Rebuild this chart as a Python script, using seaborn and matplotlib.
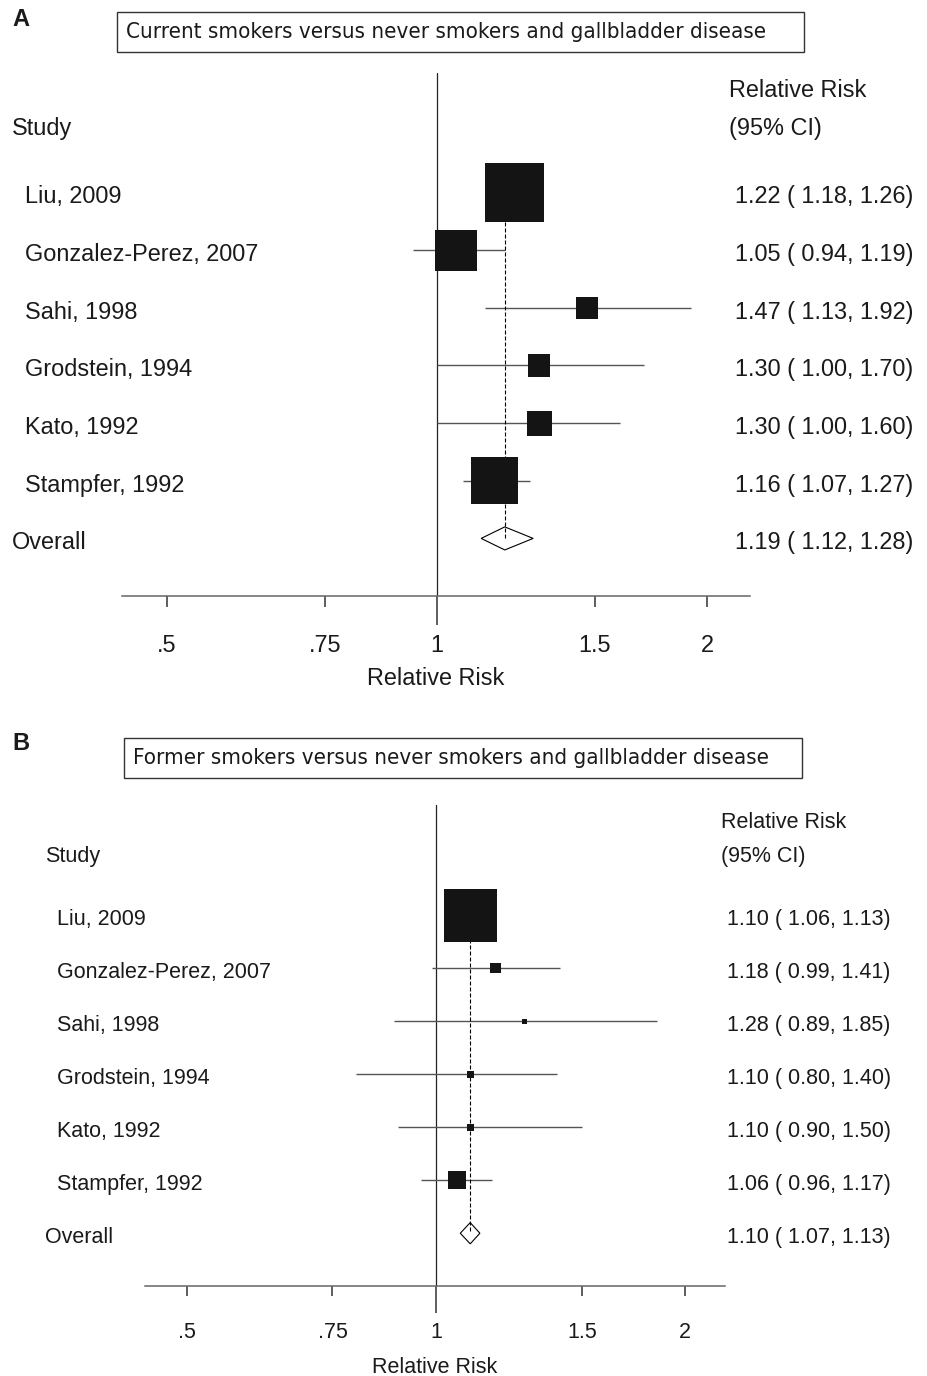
"""
Forest plots: smoking status and gallbladder disease (panels A and B)
"""

import numpy as np
import pandas as pd
import matplotlib
matplotlib.use('Agg')
import matplotlib.pyplot as plt
import matplotlib.transforms as mtransforms
from matplotlib import font_manager
from matplotlib.patches import Rectangle
import seaborn as sns

sns.set_theme(style='white')
plt.rcParams['font.family'] = ['Liberation Sans', 'DejaVu Sans']

# ============================================================================
# Data
# ============================================================================
studies = ['Liu, 2009', 'Gonzalez-Perez, 2007', 'Sahi, 1998',
           'Grodstein, 1994', 'Kato, 1992', 'Stampfer, 1992']

# A: current vs never smokers
a_rr = [1.22, 1.05, 1.47, 1.30, 1.30, 1.16]
a_lo = [1.18, 0.94, 1.13, 1.00, 1.00, 1.07]
a_hi = [1.26, 1.19, 1.92, 1.70, 1.60, 1.27]
a_weight = [38.7, 18.7, 5.6, 5.5, 6.9, 24.5]      # % weight (box area)
a_overall = [1.19, 1.12, 1.28]

# B: former vs never smokers
b_rr = [1.10, 1.18, 1.28, 1.10, 1.10, 1.06]
b_lo = [1.06, 0.99, 0.89, 0.80, 0.90, 0.96]
b_hi = [1.13, 1.41, 1.85, 1.40, 1.50, 1.17]
b_weight = [83.7, 3.2, 0.75, 1.3, 1.6, 9.4]
b_overall = [1.10, 1.07, 1.13]

tick_vals = [0.5, 0.75, 1, 1.5, 2]
tick_labels = ['.5', '.75', '1', '1.5', '2']

# ============================================================================
# Layout (pixels)
# ============================================================================
W, H = 928, 1376
XMIN, XMAX = 0.4454, 2.2335
YTOP, YBOT = -2.08, 6.99
TXT = '#1a1a1a'

# title font: condensed DejaVu if available, else regular DejaVu Sans
cond_files = [f.fname for f in font_manager.fontManager.ttflist
              if 'DejaVuSansCondensed.ttf' in f.fname]
if cond_files:
    title_kw = dict(fontproperties=font_manager.FontProperties(fname=cond_files[0], size=16.0))
else:
    title_kw = dict(family='DejaVu Sans', fontsize=14.3)

fig = plt.figure(figsize=(W / 100, H / 100), dpi=100)


def fig_rect(left, top, right, bottom):
    return [left / W, 1 - bottom / H, (right - left) / W, (bottom - top) / H]


def draw_panel(rr, lo, hi, weight, overall, letter, title, lay):
    ax = fig.add_axes(fig_rect(lay['left'], lay['top'], lay['right'], lay['bottom']))
    fs = lay['fs']
    n = len(studies)
    df = pd.DataFrame({'study': studies, 'rr': rr, 'lo': lo, 'hi': hi,
                       'weight': weight, 'row': np.arange(n)})

    ax.set_xscale('log')

    # reference line at 1
    ax.axvline(1, color='#222222', lw=0.9, zorder=1)

    # confidence intervals
    ax.hlines(df['row'], df['lo'], df['hi'], color='#555555', lw=1.0, zorder=2)

    # overall diamond + dashed line
    est, olo, ohi = overall
    ax.fill([olo, est, ohi, est], [n, n - 0.2, n, n + 0.2],
            facecolor='white', edgecolor='black', lw=0.8, zorder=2.5)
    ax.plot([est, est], [0, n], color='black', lw=0.8, dashes=(3.6, 1.8), zorder=3)

    # weighted boxes
    side_pt = lay['k'] * np.sqrt(df['weight'].values) * 0.72
    sns.scatterplot(data=df, x='rr', y='row', marker='s', s=side_pt ** 2,
                    color='#141414', linewidth=0, legend=False, zorder=4, ax=ax)

    ax.set_xlim(XMIN, XMAX)
    ax.set_ylim(YBOT, YTOP)

    # axes styling
    for s in ['top', 'right', 'left']:
        ax.spines[s].set_visible(False)
    ax.spines['bottom'].set_color('#666666')
    ax.spines['bottom'].set_linewidth(1.1)
    ax.set_yticks([])
    ax.set_ylabel('')
    ax.set_xticks(tick_vals, tick_labels)
    ax.minorticks_off()
    ax.tick_params(axis='x', which='major', bottom=True, direction='out',
                   length=lay['tl'], width=1.1, color='#333333',
                   pad=lay['pad'], labelsize=fs, labelcolor=TXT)
    ax.xaxis.get_major_ticks()[2].tick1line.set_markersize(lay['tl1'])
    ax.set_xlabel('Relative Risk', fontsize=fs, color=TXT, labelpad=lay['lpad'])

    # text columns
    tr = mtransforms.blended_transform_factory(fig.transFigure, ax.transData)
    off = 0.19
    kw = dict(transform=tr, va='baseline', ha='left', fontsize=fs, color=TXT)
    ax.text(lay['x_hdr'] / W, -1.0, 'Study', **kw)
    ax.text(lay['x_rrh'] / W, -1.65, 'Relative Risk', **kw)
    ax.text(lay['x_rrh'] / W, -1.0, '(95% CI)', **kw)
    for _, r in df.iterrows():
        ax.text(lay['x_lab'] / W, r['row'] + off, r['study'], **kw)
        ax.text(lay['x_val'] / W, r['row'] + off,
                f"{r['rr']:.2f} ( {r['lo']:.2f}, {r['hi']:.2f})", **kw)
    ax.text(lay['x_hdr'] / W, n + off, 'Overall', **kw)
    ax.text(lay['x_val'] / W, n + off, f"{est:.2f} ( {olo:.2f}, {ohi:.2f})", **kw)

    # panel letter and title box
    bx = lay['box']
    fig.add_artist(Rectangle((bx[0] / W, 1 - bx[3] / H), (bx[2] - bx[0]) / W,
                             (bx[3] - bx[1]) / H, transform=fig.transFigure,
                             facecolor='white', edgecolor='#333333', lw=1.0))
    fig.text((bx[0] + 9) / W, 1 - (bx[1] + bx[3]) / 2 / H, title,
             color=TXT, va='center', ha='left', **title_kw)
    fig.text(12 / W, 1 - lay['letter_y'] / H, letter, fontsize=17,
             fontweight='bold', color=TXT, va='center', ha='left')
    return ax


layout_a = dict(left=122, right=750, top=72.5, bottom=595.5, fs=16.9, k=9.49,
                tl=7.9, tl1=20.9, pad=20.0, lpad=7,
                x_hdr=12, x_lab=25, x_rrh=729, x_val=735,
                box=(117, 12, 804, 52), letter_y=19)
layout_b = dict(left=145, right=725, top=805, bottom=1285.7, fs=15.5, k=5.76,
                tl=7.3, tl1=19.4, pad=18.8, lpad=10,
                x_hdr=45, x_lab=57, x_rrh=721, x_val=727,
                box=(124, 738, 802, 778), letter_y=743)

draw_panel(a_rr, a_lo, a_hi, a_weight, a_overall, 'A',
           'Current smokers versus never smokers and gallbladder disease', layout_a)
draw_panel(b_rr, b_lo, b_hi, b_weight, b_overall, 'B',
           'Former smokers versus never smokers and gallbladder disease', layout_b)

plt.savefig('out.png', dpi=100)
plt.close()
